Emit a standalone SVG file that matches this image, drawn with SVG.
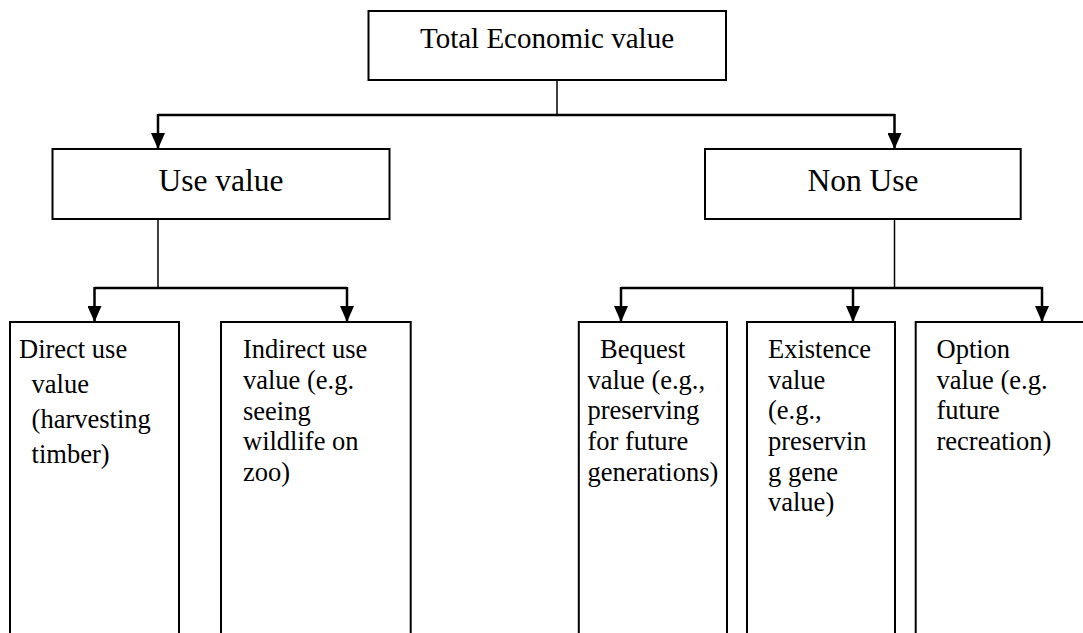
<svg xmlns="http://www.w3.org/2000/svg" width="1083" height="633" viewBox="0 0 1083 633">
<defs>
<marker id="ah" viewBox="0 0 14 16" refX="7" refY="16" markerWidth="14" markerHeight="16" markerUnits="userSpaceOnUse" orient="0">
<path d="M0,0 L14,0 L7,16 Z" fill="#000"/>
</marker>
</defs>
<style>
.box{fill:#fff;stroke:#000;stroke-width:2}
text{font-family:'Liberation Serif','Times New Roman',Tinos,'DejaVu Serif',serif;fill:#000}
.t1{font-size:29px}
.t2{font-size:31.5px}
.t3{font-size:26.5px}
.stem{fill:none;stroke:#000;stroke-width:1.5}
.bar{fill:none;stroke:#000;stroke-width:2.5}
.arr{fill:none;stroke:#000;stroke-width:2.5;marker-end:url(#ah)}
</style>
<rect width="1083" height="633" fill="#fff"/>
<g id="connectors">
<path class="stem" d="M557,80 V115"/>
<path class="bar" d="M158,115 H894.5"/>
<path class="arr" d="M158,114 V149"/>
<path class="arr" d="M894.5,114 V149"/>
<path class="stem" d="M158,219 V288"/>
<path class="bar" d="M94.5,288 H347"/>
<path class="arr" d="M94.5,287 V322"/>
<path class="arr" d="M347,287 V322"/>
<path class="stem" d="M894.5,219 V288"/>
<path class="bar" d="M621,288 H1042"/>
<path class="arr" d="M621,287 V322"/>
<path class="arr" d="M853,287 V322"/>
<path class="arr" d="M1042,287 V322"/>
</g>
<g id="total">
<rect class="box" x="368.5" y="11" width="357.5" height="69"/>
<text class="t1" x="547" y="48" text-anchor="middle" font-family="Liberation Serif, serif">Total Economic value</text>
</g>
<g id="use">
<rect class="box" x="52.5" y="149" width="337" height="70"/>
<text class="t2" x="221" y="191" text-anchor="middle">Use value</text>
</g>
<g id="nonuse">
<rect class="box" x="705" y="149" width="315.7" height="70"/>
<text class="t2" x="863" y="191" text-anchor="middle">Non Use</text>
</g>
<g id="direct">
<rect class="box" x="10" y="322" width="169" height="340"/>
<text class="t3" x="19" y="358">Direct use</text>
<text class="t3" x="31.6" y="393">value</text>
<text class="t3" x="31.6" y="428">(harvesting</text>
<text class="t3" x="31.6" y="463">timber)</text>
</g>
<g id="indirect">
<rect class="box" x="221" y="322" width="189.7" height="340"/>
<text class="t3" x="243" y="358">Indirect use</text>
<text class="t3" x="243" y="389">value (e.g.</text>
<text class="t3" x="243" y="419.5">seeing</text>
<text class="t3" x="243" y="450">wildlife on</text>
<text class="t3" x="243" y="480.7">zoo)</text>
</g>
<g id="bequest">
<rect class="box" x="578.8" y="322" width="148.2" height="340"/>
<text class="t3" x="600" y="358">Bequest</text>
<text class="t3" x="587.4" y="388.7">value (e.g.,</text>
<text class="t3" x="587.4" y="419.4">preserving</text>
<text class="t3" x="587.4" y="450">for future</text>
<text class="t3" x="587.4" y="480.7">generations)</text>
</g>
<g id="existence">
<rect class="box" x="747" y="322" width="148" height="340"/>
<text class="t3" x="768" y="358">Existence</text>
<text class="t3" x="768" y="388.7">value</text>
<text class="t3" x="768" y="419.4">(e.g.,</text>
<text class="t3" x="768" y="450">preservin</text>
<text class="t3" x="768" y="480.7">g gene</text>
<text class="t3" x="768" y="511.4">value)</text>
</g>
<g id="option">
<rect class="box" x="915.7" y="322" width="200" height="340"/>
<text class="t3" x="936.5" y="358">Option</text>
<text class="t3" x="936.5" y="388.7">value (e.g.</text>
<text class="t3" x="936.5" y="419.4">future</text>
<text class="t3" x="936.5" y="450">recreation)</text>
</g>
</svg>
